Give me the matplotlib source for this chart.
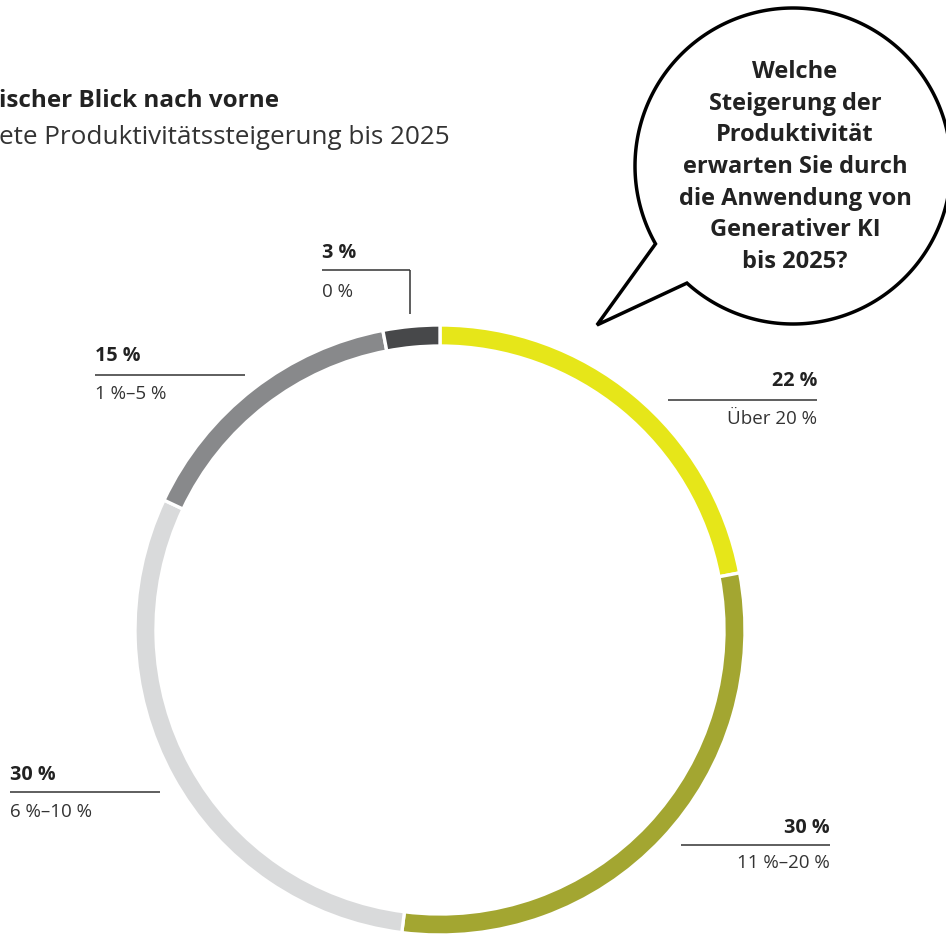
import numpy as np
import matplotlib.pyplot as plt
from matplotlib.patches import Polygon

plt.rcParams['font.family'] = ['Open Sans', 'DejaVu Sans']

# -----------------------------
# data
# -----------------------------
shares = [22, 30, 30, 15, 3]
ranges = ["Über 20 %", "11 %–20 %", "6 %–10 %", "1 %–5 %", "0 %"]
colors = ["#e6e619", "#a3a631", "#d9dadb", "#88898b", "#47484a"]

title_bold = "ischer Blick nach vorne"
title_sub = "ete Produktivitätssteigerung bis 2025"
question = ("Welche\nSteigerung der\nProduktivität\nerwarten Sie durch\n"
            "die Anwendung von\nGenerativer KI\nbis 2025?")

W, H = 946, 938
fig = plt.figure(figsize=(W / 100, H / 100), dpi=100)
ax = fig.add_axes([0, 0, 1, 1])

# ring (pixel coords, y inverted -> counterclock=True is visually clockwise)
cx, cy, r = 440, 630, 305
ax.pie(shares, colors=colors, startangle=-90, counterclock=True,
       center=(cx, cy), radius=r,
       wedgeprops=dict(width=21, edgecolor="white", linewidth=2.4))
ax.set_xlim(0, W)
ax.set_ylim(H, 0)
ax.set_aspect("equal")
ax.axis("off")

# title (cut at left edge as in the source)
ax.text(-1, 101, title_bold, fontsize=17.5, fontweight="bold", color="#222222",
        ha="left", va="center")
ax.text(-1, 137, title_sub, fontsize=18.8, color="#333333",
        ha="left", va="center")

# labels: (x text, y value, y line, y range, line x0, line x1, align)
lab_pos = [
    (817, 381, 400, 419, 668, 817, "right"),
    (830, 828, 845, 863, 681, 830, "right"),
    (10, 775, 792, 812, 10, 160, "left"),
    (95, 356, 375, 394, 95, 245, "left"),
    (322, 253, 270, 292, 322, 410, "left"),
]
for v, rng, (tx, yv, yl, yr, x0, x1, ha) in zip(shares, ranges, lab_pos):
    ax.text(tx, yv, f"{v} %", fontsize=14.2, fontweight="bold", color="#222222",
            ha=ha, va="center")
    ax.text(tx, yr, rng, fontsize=13.5, color="#333333", ha=ha, va="center")
    ax.plot([x0, x1], [yl, yl], color="#333333", lw=1.1, solid_capstyle="butt")
# leader for the small 3 % slice
ax.plot([410, 410], [270, 314], color="#333333", lw=1.1, solid_capstyle="butt")

# speech bubble
bx, by, br = 793, 166, 158
a_start = np.degrees(np.arctan2(283 - by, 687 - bx))
a_end = np.degrees(np.arctan2(243 - by, 657 - bx)) - 360
t = np.radians(np.linspace(a_start, a_end, 300))
pts = np.column_stack([bx + br * np.cos(t), by + br * np.sin(t)])
pts = np.vstack([pts, [[597, 325]]])
ax.add_patch(Polygon(pts, closed=True, facecolor="white", edgecolor="black",
                     lw=2.5, joinstyle="miter", zorder=3))
ax.text(795, 167, question, fontsize=17, fontweight="bold", color="#222222",
        ha="center", va="center", linespacing=1.42, zorder=4)

fig.savefig("out.png", dpi=100, facecolor="white")
